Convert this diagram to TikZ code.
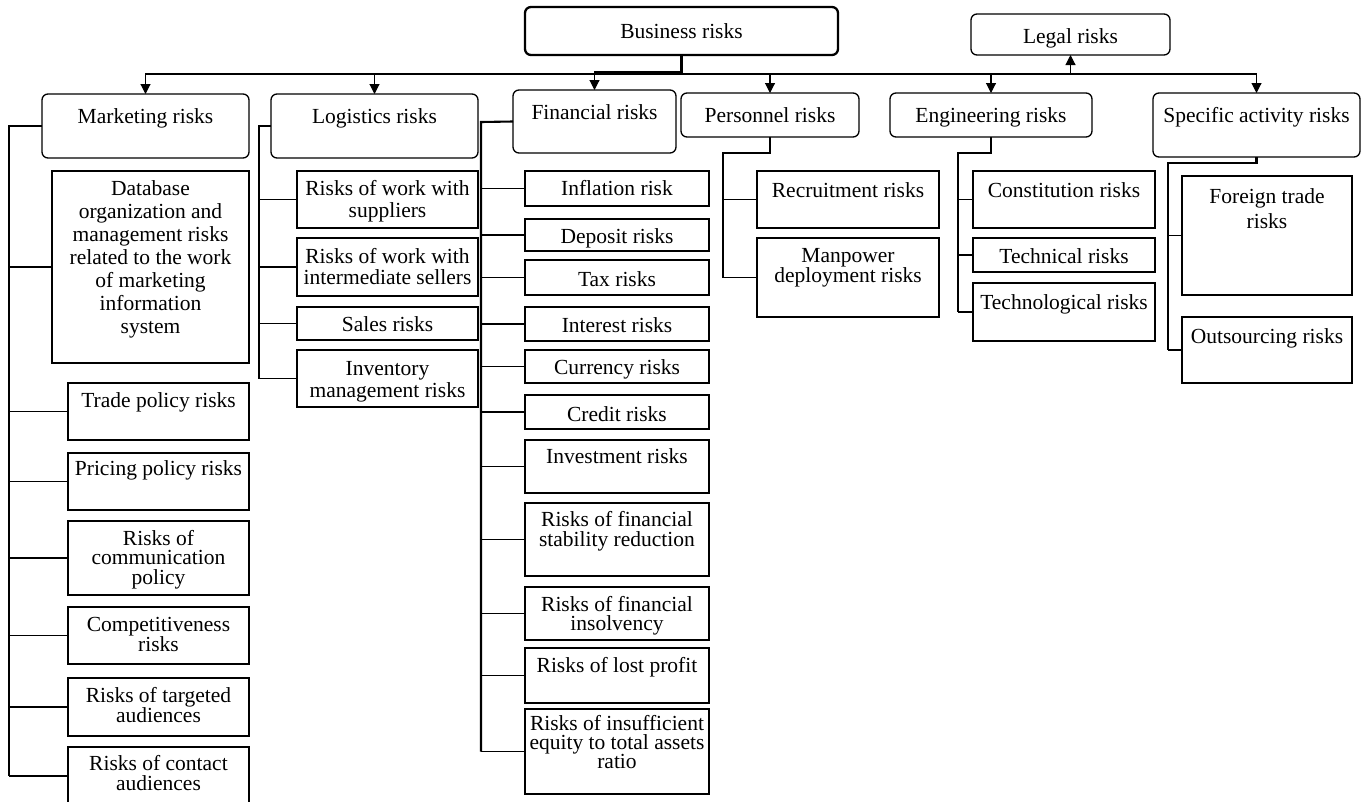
\documentclass[tikz,border=0pt]{standalone}
\usepackage{fontspec}
\setmainfont{Liberation Serif}
\usetikzlibrary{arrows.meta}
\tikzset{
 box/.style={draw, line width=1.3pt, inner sep=0pt, outer sep=0pt},
 rbox/.style={box, rounded corners=6pt},
 bigbox/.style={box, rounded corners=6pt, line width=2.3pt},
 link/.style={line width=1.1pt},
 trunk/.style={line width=2.1pt},
 trunkm/.style={line width=1.6pt},
 arr/.style={line width=1.1pt, -{Triangle[width=10pt,length=10pt]}},
}
% [style]{name}{x1}{y1}{x2}{y2}{first baseline y}{baselineskip}{text}
\newcommand\rbx[9][box]{%
 \pgfmathsetmacro\bxw{#5-#3}%
 \pgfmathsetmacro\bxh{#6-#4}%
 \pgfmathsetmacro\bxp{#7-#4-16}%
 \node[#1, anchor=north west] (#2) at (#3,#4) {\parbox[t][\bxh pt][t]{\bxw pt}{\fontsize{21.5pt}{#8pt}\selectfont\lineskiplimit=-\maxdimen\centering\vspace*{\bxp pt}\rule{0pt}{16pt}#9}};}
\begin{document}
\begin{tikzpicture}[x=1pt,y=-1pt]
\useasboundingbox (0,0) rectangle (1366,801);
\clip (0,0) rectangle (1366,801);
% top level
\rbx[bigbox]{bus}{525}{7}{838}{55}{38}{21}{Business risks}
\rbx[rbox]{legal}{971}{14}{1170}{55}{43}{21}{Legal risks}
\rbx[rbox]{mkt}{42}{94}{249}{158}{123}{21}{Marketing risks}
\rbx[rbox]{log}{271}{94}{478}{158}{123}{21}{Logistics risks}
\rbx[rbox]{fin}{513}{90}{676}{153}{119}{21}{Financial risks}
\rbx[rbox]{pers}{681}{93}{859}{137}{122}{21}{Personnel risks}
\rbx[rbox]{eng}{890}{93}{1092}{137}{122}{21}{Engineering risks}
\rbx[rbox]{spec}{1153}{93}{1360}{157}{122}{21}{Specific activity risks}
% marketing
\rbx{db}{52}{171}{249}{363}{195}{23}{Database\\organization and\\management risks\\related to the work\\of marketing\\information\\system}
\rbx{m1}{68}{383}{249}{440}{407}{21}{Trade policy risks}
\rbx{m2}{68}{453}{249}{510}{475}{21}{Pricing policy risks}
\rbx{m3}{68}{521}{249}{595}{545}{19.5}{Risks of\\communication\\policy}
\rbx{m4}{68}{607}{249}{664}{631}{20}{Competitiveness\\risks}
\rbx{m5}{68}{678}{249}{736}{702}{20}{Risks of targeted\\audiences}
\rbx{m6}{68}{747}{249}{805}{770}{20}{Risks of contact\\audiences}
% logistics
\rbx{l1}{297}{171}{478}{228}{195}{22}{Risks of work with\\suppliers}
\rbx{l2}{297}{238}{478}{296}{263}{21}{Risks of work with\\intermediate sellers}
\rbx{l3}{297}{307}{478}{340}{331}{21}{Sales risks}
\rbx{l4}{297}{350}{478}{407}{375}{22}{Inventory\\management risks}
% financial
\rbx{f1}{525}{171}{709}{206}{195}{21}{Inflation risk}
\rbx{f2}{525}{219}{709}{251}{243}{21}{Deposit risks}
\rbx{f3}{525}{260}{709}{295}{286}{21}{Tax risks}
\rbx{f4}{525}{307}{709}{341}{332}{21}{Interest risks}
\rbx{f5}{525}{350}{709}{383}{374}{21}{Currency risks}
\rbx{f6}{525}{395}{709}{429}{421}{21}{Credit risks}
\rbx{f7}{525}{440}{709}{493}{463}{21}{Investment risks}
\rbx{f8}{525}{503}{709}{576}{526}{20.7}{Risks of financial\\stability reduction}
\rbx{f9}{525}{587}{709}{640}{611}{19.5}{Risks of financial\\insolvency}
\rbx{f10}{525}{648}{709}{703}{672}{21}{Risks of lost profit}
\rbx{f11}{525}{709}{709}{794}{730}{19}{Risks of insufficient\\equity to total assets\\ratio}
% personnel
\rbx{p1}{757}{171}{939}{228}{197}{21}{Recruitment risks}
\rbx{p2}{757}{238}{939}{317}{262}{20}{Manpower\\deployment risks}
% engineering
\rbx{e1}{973}{171}{1155}{228}{197}{21}{Constitution risks}
\rbx{e2}{973}{238}{1155}{272}{263}{21}{Technical risks}
\rbx{e3}{973}{283}{1155}{341}{309}{21}{Technological risks}
% specific
\rbx{s1}{1182}{176}{1352}{295}{203}{25}{Foreign trade\\risks}
\rbx{s2}{1182}{317}{1352}{383}{343}{21}{Outsourcing risks}
% top distribution
\path (bus.south) ++(0,19) coordinate (hub);
\draw[arr] (hub) -| (mkt.north);
\draw[arr] (hub) -| (log.north);
\draw[arr] ([yshift=2pt]hub) -| (fin.north);
\draw[arr] (hub) -| (pers.north);
\draw[arr] (hub) -| (eng.north);
\draw[arr] (hub) -| (spec.north);
\draw[trunk] (bus.south) -- (hub) -- (legal.south |- hub);
\draw[arr] (legal.south |- hub) -- (legal.south);
% marketing bracket
\coordinate (mk) at (9,126);
\draw[trunkm] (mkt.west) -- (mk) -- (mk |- m6.west);
\foreach \c in {db,m1,m2,m3,m4,m5,m6} \draw[link] (mk |- \c.west) -- (\c.west);
% logistics bracket
\coordinate (lk) at (259,126);
\draw[link] (log.west) -- (lk) -- (lk |- l4.west);
\foreach \c in {l1,l2,l3,l4} \draw[link] (lk |- \c.west) -- (\c.west);
% financial bracket
\coordinate (fk) at (481,122);
\draw[trunk] (fin.west) -- (fk) -- (fk |- f11.west);
\foreach \c in {f1,f2,f3,f4,f5,f6,f7,f8,f9,f10,f11} \draw[link] (fk |- \c.west) -- (\c.west);
% personnel
\path (pers.south) ++(0,16) coordinate (pa);
\coordinate (pk) at (723,153);
\draw[trunk] (pers.south) -- (pa) -- (pk) -- (pk |- p2.west);
\foreach \c in {p1,p2} \draw[link] (pk |- \c.west) -- (\c.west);
% engineering
\path (eng.south) ++(0,16) coordinate (ea);
\coordinate (ek) at (958,153);
\draw[trunk] (eng.south) -- (ea) -- (ek) -- (ek |- e3.west);
\foreach \c in {e1,e2,e3} \draw[link] (ek |- \c.west) -- (\c.west);
% specific
\path (spec.south) ++(0,6) coordinate (sa);
\coordinate (sk) at (1168,163);
\draw[trunk] (spec.south) -- (sa) -- (sk) -- (sk |- s2.west);
\foreach \c in {s1,s2} \draw[link] (sk |- \c.west) -- (\c.west);
\end{tikzpicture}
\end{document}
